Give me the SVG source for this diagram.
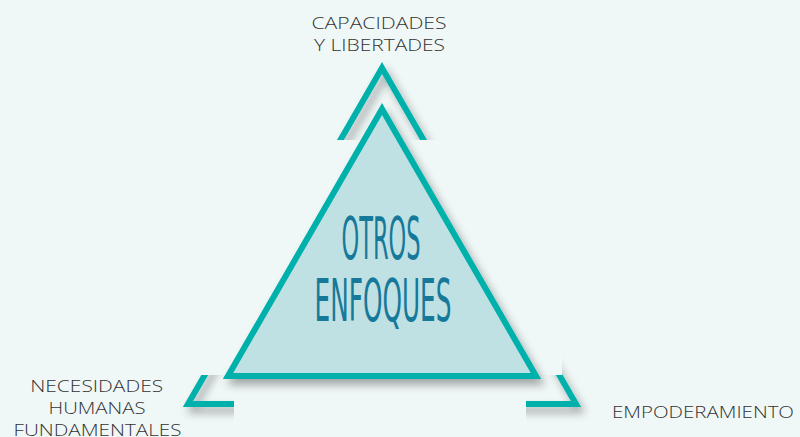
<svg xmlns="http://www.w3.org/2000/svg" width="800" height="437" viewBox="0 0 800 437">
  <defs>
    <filter id="shadow" x="-20%" y="-20%" width="140%" height="140%">
      <feDropShadow dx="4" dy="6" stdDeviation="4" flood-color="#000" flood-opacity="0.33"/>
    </filter>
    <style>
      .lbl { font-family: "Open Sans", "Liberation Sans", sans-serif; font-weight: 300; font-size: 17px; fill: #333333; }
      .title { font-family: "Liberation Sans Narrow", "DejaVu Sans Condensed", "Liberation Sans", sans-serif; font-size: 58px; fill: #17799a; }
      .tri { stroke: #00b0ab; stroke-width: 6; stroke-linejoin: miter; stroke-miterlimit: 10; }
    </style>
  </defs>
  <rect x="0" y="0" width="800" height="437" fill="#eff8f7"/>

  <g id="outer-triangle">
    <polygon class="tri" points="382,68 576,404 188,404" fill="none" filter="url(#shadow)"/>
  </g>
  <g id="cover">
    <polygon points="150,140 562,140 562,375 526,375 526,437 234,437 234,375 150,375" fill="#eff8f7"/>
  </g>
  <g id="inner-triangle">
    <polygon class="tri" points="382,109 536,376 228,376" fill="#bfe1e3" filter="url(#shadow)"/>
    <text class="title" x="381" y="259" text-anchor="middle" textLength="79" lengthAdjust="spacingAndGlyphs">OTROS</text>
    <text class="title" x="383" y="321" text-anchor="middle" textLength="137" lengthAdjust="spacingAndGlyphs">ENFOQUES</text>
  </g>

  <g id="label-top">
    <text class="lbl" x="379" y="29" text-anchor="middle" textLength="135" lengthAdjust="spacingAndGlyphs">CAPACIDADES</text>
    <text class="lbl" x="379.5" y="51" text-anchor="middle" textLength="131" lengthAdjust="spacingAndGlyphs">Y LIBERTADES</text>
  </g>
  <g id="label-left">
    <text class="lbl" x="96.7" y="392" text-anchor="middle" textLength="133" lengthAdjust="spacingAndGlyphs">NECESIDADES</text>
    <text class="lbl" x="97" y="414" text-anchor="middle" textLength="97" lengthAdjust="spacingAndGlyphs">HUMANAS</text>
    <text class="lbl" x="97.5" y="435.5" text-anchor="middle" textLength="168" lengthAdjust="spacingAndGlyphs">FUNDAMENTALES</text>
  </g>
  <g id="label-right">
    <text class="lbl" x="612" y="418" textLength="182" lengthAdjust="spacingAndGlyphs">EMPODERAMIENTO</text>
  </g>
  <g id="connectors"></g>
</svg>
